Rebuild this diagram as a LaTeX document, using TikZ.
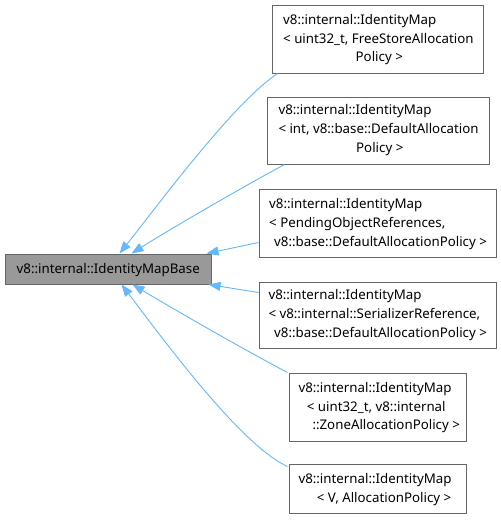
\documentclass[tikz,border=0pt]{standalone}
\usepackage{fontspec}
\setmainfont{Noto Sans}
\usetikzlibrary{arrows.meta}
\definecolor{edgeblue}{HTML}{63B8FF}
\definecolor{boxborder}{HTML}{666666}
\definecolor{basefill}{HTML}{999999}
\begin{document}
\begin{tikzpicture}[x=1pt,y=-1pt,
  box/.style={draw=boxborder, line width=1pt, fill=white, rectangle, inner sep=0pt},
  basebox/.style={box, fill=basefill},
  txt/.style={anchor=base west, inner sep=0pt, font=\fontsize{13.3}{16}\selectfont, text=black},
  edge/.style={draw=edgeblue, line width=0.9pt, -{Triangle[length=12pt,width=9pt]}}]
\useasboundingbox (0,0) rectangle (501,520);
% boxes
\node[basebox, minimum width=206pt, minimum height=30pt] (base) at (108,269) {};
\node[box, minimum width=211pt, minimum height=68pt] (b1) at (377.5,39) {};
\node[box, minimum width=222pt, minimum height=67pt] (b2) at (378,130.5) {};
\node[box, minimum width=237pt, minimum height=68pt] (b3) at (377.5,223) {};
\node[box, minimum width=237pt, minimum height=66pt] (b4) at (377.5,315) {};
\node[box, minimum width=177pt, minimum height=68pt] (b5) at (377.5,407) {};
\node[box, minimum width=177pt, minimum height=49pt] (b6) at (377.5,488.5) {};
% texts
\node[txt] (t0) at (16.5,273.5) {v8::internal::IdentityMapBase};
\node[txt] (t11) at (283,24.5) {v8::internal::IdentityMap};
\node[txt] (t12) at (283,43) {< uint32\_t, FreeStoreAllocation};
\node[txt] (t13) at (355.5,61.3) {Policy >};
\node[txt] (t21) at (278.3,114.5) {v8::internal::IdentityMap};
\node[txt] (t22) at (278.3,133.8) {< int, v8::base::DefaultAllocation};
\node[txt] (t23) at (356,152.8) {Policy >};
\node[txt] (t31) at (269,208.5) {v8::internal::IdentityMap};
\node[txt] (t32) at (269,227.2) {< PendingObjectReferences,};
\node[txt] (t33) at (274,246) {v8::base::DefaultAllocationPolicy >};
\node[txt] (t41) at (268.3,299.5) {v8::internal::IdentityMap};
\node[txt] (t42) at (268.3,318.5) {< v8::internal::SerializerReference,};
\node[txt] (t43) at (274,337.8) {v8::base::DefaultAllocationPolicy >};
\node[txt] (t51) at (298.3,392.8) {v8::internal::IdentityMap};
\node[txt] (t52) at (306.7,411.2) {< uint32\_t, v8::internal};
\node[txt] (t53) at (312.3,429.6) {::ZoneAllocationPolicy >};
\node[txt] (t61) at (298.3,483.8) {v8::internal::IdentityMap};
\node[txt] (t62) at (316.7,502) {< V, AllocationPolicy >};
% edges
\draw[edge] ([xshift=6pt]b1.south west) .. controls (233,103) and (155,209) .. ([xshift=115pt]base.north west);
\draw[edge] ([xshift=18pt]b2.south west) .. controls (250,183) and (175,226) .. ([xshift=127pt]base.north west);
\draw[edge] ([yshift=-54pt]b3.north west) -- ([xshift=-5pt]base.north east);
\draw[edge] ([yshift=-11pt]b4.north west) -- ([xshift=-3pt]base.south east);
\draw[edge] ([xshift=-1pt]b5.north west) .. controls (250,353) and (175,310) .. ([xshift=128pt]base.south west);
\draw[edge] ([xshift=-1pt,yshift=-3pt]b6.north west) .. controls (240,445) and (160,335) .. ([xshift=117pt]base.south west);
\end{tikzpicture}
\end{document}
